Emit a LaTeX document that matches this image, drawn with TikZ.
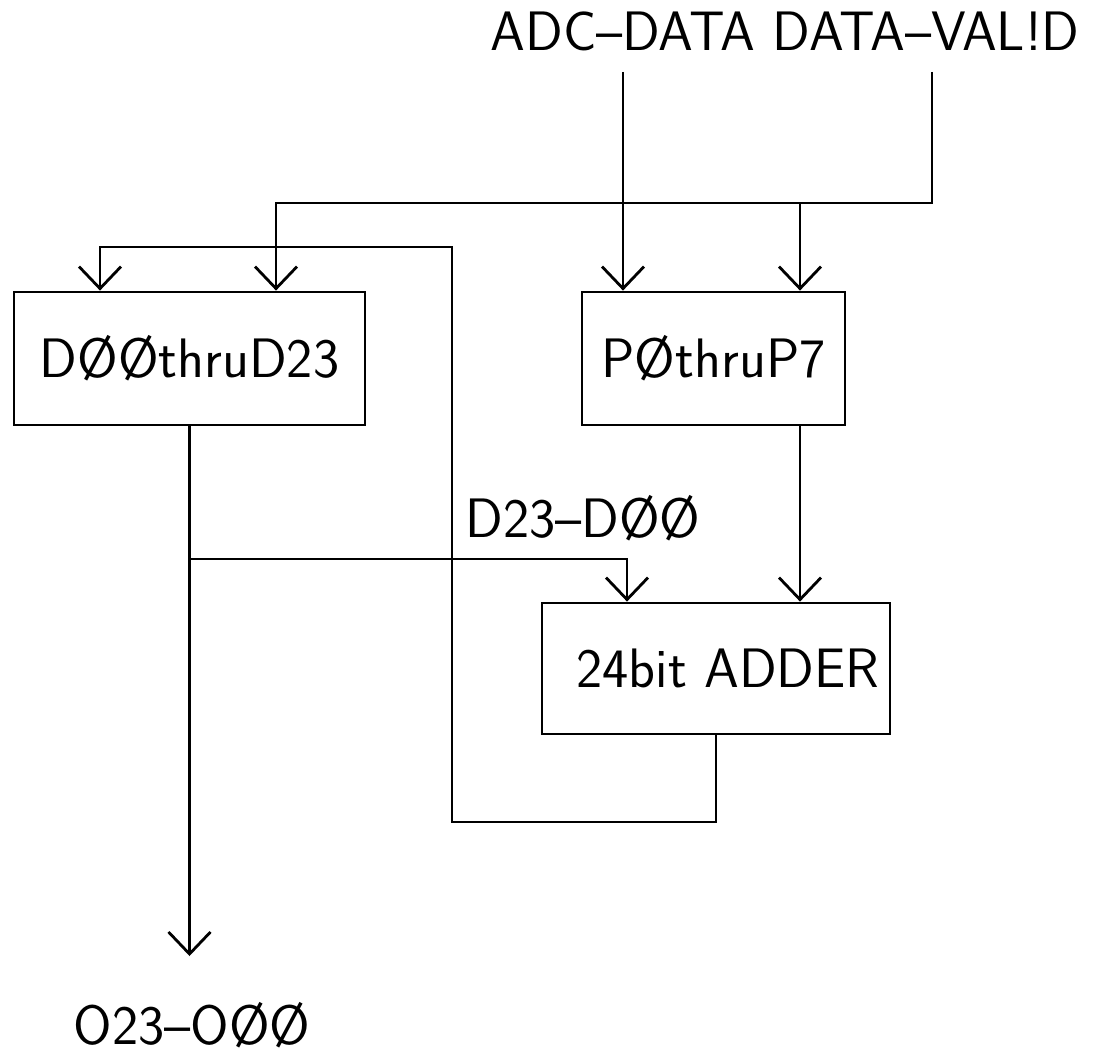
\documentclass[tikz,border=0pt]{standalone}
\usetikzlibrary{arrows.meta, calc}

\begin{document}
\begin{tikzpicture}[x=0.5pt, y=-0.5pt, line width=1.4pt,
        font=\fontsize{27.8}{32}\selectfont\sffamily,
        unit/.style={rectangle, draw, inner sep=0pt, minimum height=66.5pt},
        sig/.style={draw, -{Straight Barb[length=11pt, width=21pt]}}]
        \useasboundingbox (0,0) rectangle (1096,1053);

        \node (insig) at (785,31) {ADC–DATA DATA–VAL!D};
        \node [unit, minimum width=175.5pt] (dreg) at (189.5,358.5) {DØØthruD23};
        \node [unit, minimum width=131.5pt] (preg) at (713.5,358.5) {PØthruP7};
        \node [unit, minimum width=174pt, minimum height=65.5pt] (adder) at (716,668.5) {\hspace*{12pt}24bit ADDER};
        \node (dlabel) at (583,518.5) {D23–DØØ};
        \node (olabel) at (192,1025.5) {O23–OØØ};

        \coordinate (adcin) at (623,72);
        \coordinate (valin) at (932,72);
        \coordinate (vbus) at (932,203);
        \coordinate (dclk) at ($(dreg.north)+(86.5,0)$);
        \coordinate (dload) at ($(dreg.north)+(-89.5,0)$);
        \coordinate (pclk) at ($(preg.north)+(86.5,0)$);
        \coordinate (tap) at (189.5,559);
        \coordinate (ain) at ($(adder.north)+(-89,0)$);
        \coordinate (fbot) at (452,822);
        \coordinate (ftop) at (452,247);
        \coordinate (dout) at (189.5,956);

        \path [sig] (adcin) -- (adcin |- preg.north);
        \path [sig] (valin) |- (vbus) -| (dclk);
        \path [sig] (pclk |- vbus) -- (pclk);
        \path [sig] (pclk |- preg.south) -- (pclk |- adder.north);
        \path [sig] (dreg.south) -- (dout);
        \path [sig] (tap) -| (ain);
        \path [sig] (adder.south) |- (fbot) -- (ftop) -| (dload);

    \end{tikzpicture}
\end{document}
